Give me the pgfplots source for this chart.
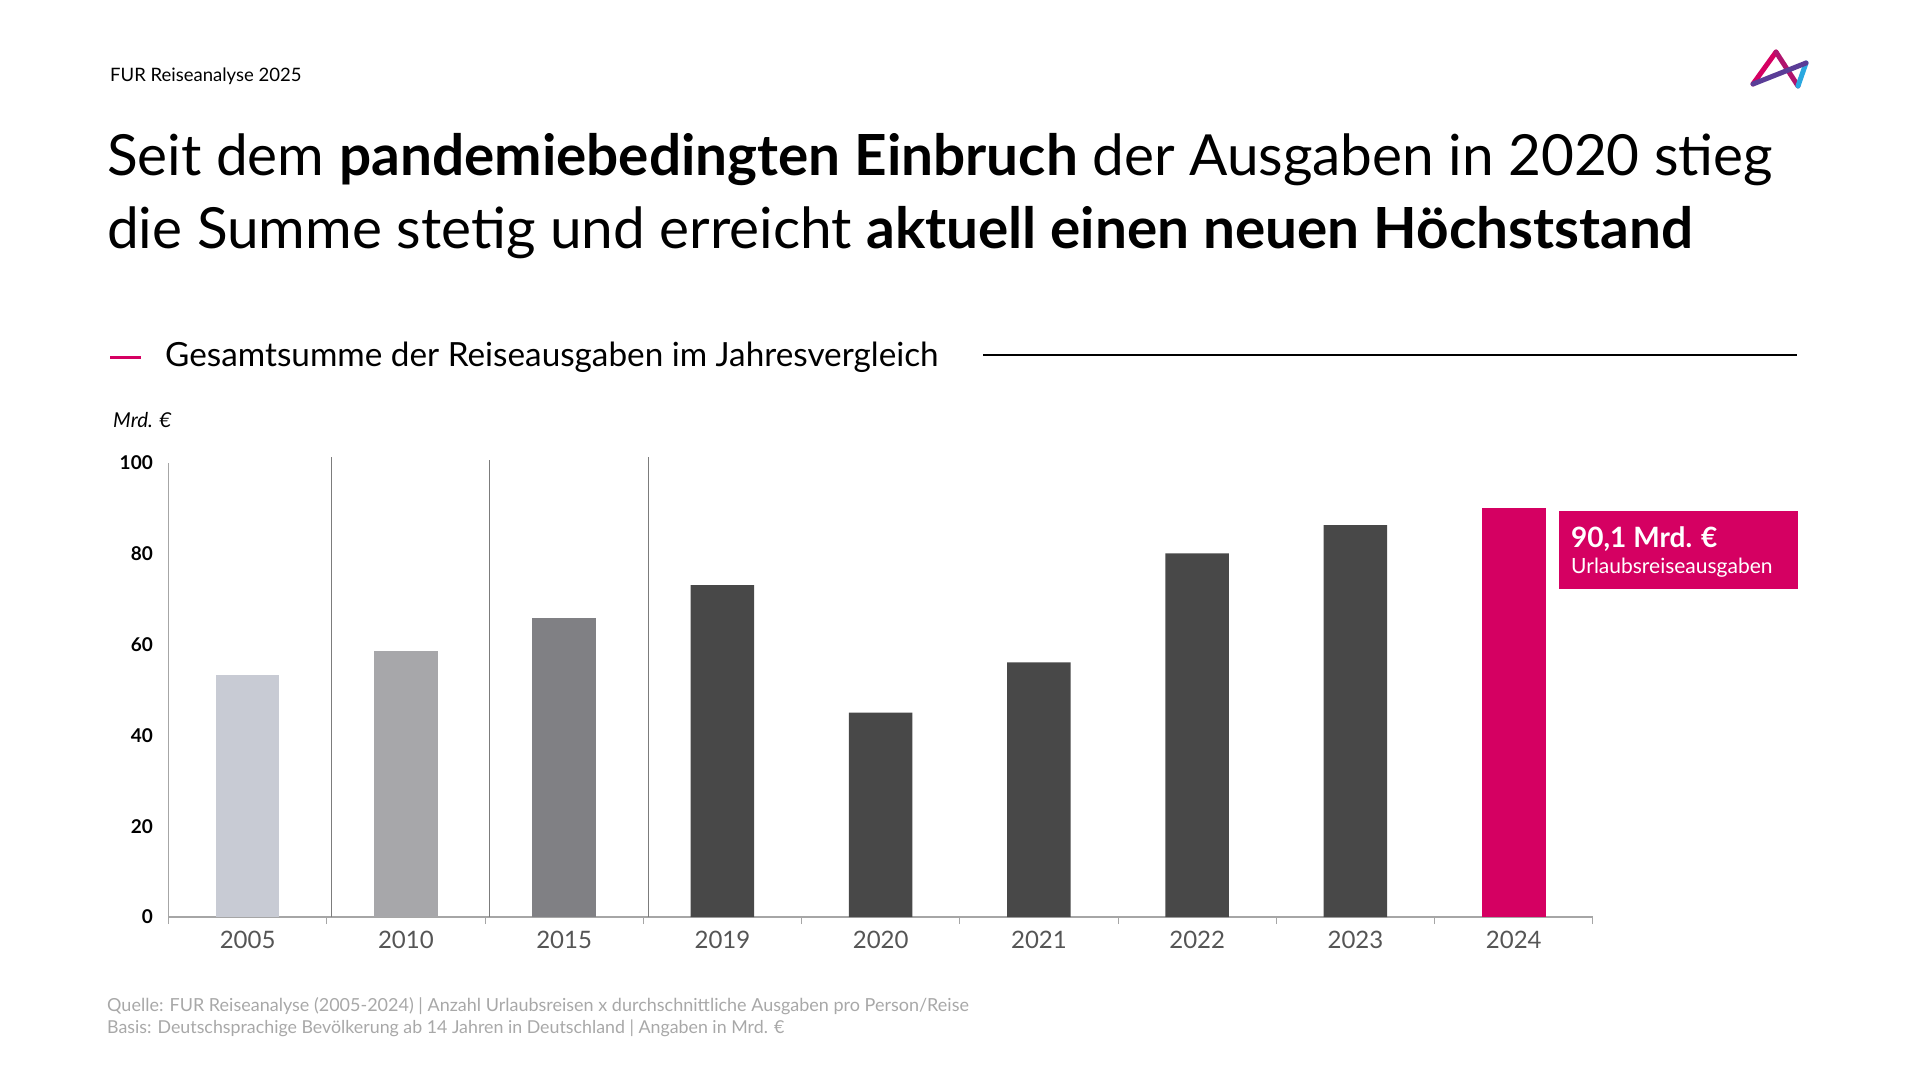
\documentclass[border=0pt]{standalone}
\usepackage{fontspec}
\setmainfont{Lato}
\usepackage{pgfplots}
\pgfplotsset{compat=1.18}

\definecolor{c05}{HTML}{C8CBD4}
\definecolor{c10}{HTML}{A7A7AA}
\definecolor{c15}{HTML}{808084}
\definecolor{cdark}{HTML}{484848}
\definecolor{mag}{HTML}{D50062}
\definecolor{axisgray}{HTML}{A6A6A6}
\definecolor{labgray}{HTML}{555555}
\definecolor{footgray}{HTML}{A8A8A8}

\newcommand{\fs}[1]{\fontsize{#1}{#1}\selectfont}

\begin{document}
\begin{tikzpicture}
\useasboundingbox (0,0) rectangle (1915pt,-1077pt);

% header
\node[anchor=base west, inner sep=0pt] at (110pt,-81pt) {\fs{18.5}FUR Reiseanalyse 2025};
\node[anchor=base west, inner sep=0pt] at (107pt,-175pt)
  {\fs{56.7}Seit dem \textbf{pandemiebedingten Einbruch} der Ausgaben in 2020 stieg};
\node[anchor=base west, inner sep=0pt] at (107pt,-248pt)
  {\fs{56.7}die Summe stetig und erreicht \textbf{aktuell einen neuen Höchststand}};

% logo
\begin{scope}[line width=5pt, line cap=round, line join=round]
\draw[color=mag] (1753pt,-84pt) -- (1776pt,-52pt);
\draw[color={rgb,255:red,176;green,20;blue,110}] (1776pt,-52pt) -- (1798pt,-86pt);
\draw[color={rgb,255:red,42;green,168;blue,224}] (1798pt,-86pt) -- (1806pt,-63pt);
\draw[color={rgb,255:red,90;green,61;blue,151}] (1806pt,-63pt) -- (1753pt,-84pt);
\end{scope}

% subtitle
\draw[mag, line width=3pt] (110pt,-357pt) -- (141pt,-357pt);
\node[anchor=base west, inner sep=0pt] at (165pt,-366pt)
  {\fs{33.3}Gesamtsumme der Reiseausgaben im Jahresvergleich};
\draw[black, line width=1.6pt] (983pt,-355pt) -- (1797pt,-355pt);
\node[anchor=base west, inner sep=0pt] at (113pt,-427pt) {\fs{20.5}\itshape Mrd. €};

\begin{axis}[
  at={(168.5pt,-917pt)}, anchor=south west,
  scale only axis, width=1424.5pt, height=454pt,
  xmin=-0.5, xmax=8.5, ymin=0, ymax=100,
  axis x line*=bottom, axis y line*=left,
  axis line style={draw=axisgray, line width=1.2pt},
  xtick={0,...,8},
  xticklabels={2005,2010,2015,2019,2020,2021,2022,2023,2024},
  minor xtick={-0.5,0.5,...,8.5},
  ytick={0,20,...,100},
  yticklabels={\textbf{0},\textbf{20},\textbf{40},\textbf{60},\textbf{80},\textbf{100}},
  major tick length=0pt, minor tick length=7pt, tick align=outside,
  minor tick style={draw=axisgray, line width=1pt},
  xticklabel style={font=\fs{24}, text=labgray, anchor=center, yshift=-23pt},
  yticklabel style={font=\fs{19}, anchor=east, inner sep=0pt, xshift=-15.5pt},
  clip=false,
]
\addplot[ybar, bar width=63.5pt, fill=c05, draw=none] coordinates {(0,53.3)};
\addplot[ybar, bar width=63.5pt, fill=c10, draw=none] coordinates {(1,58.6)};
\addplot[ybar, bar width=63.5pt, fill=c15, draw=none] coordinates {(2,65.9)};
\addplot[ybar, bar width=63.5pt, fill=cdark, draw=none] coordinates {
  (3,73.1) (4,45.0) (5,56.1) (6,80.1) (7,86.3)};
\addplot[ybar, bar width=63.5pt, fill=mag, draw=none] coordinates {(8,90.1)};
% group separators
\addplot[axisgray!75!black, line width=1pt] coordinates {(0.53,0) (0.53,101.3)};
\addplot[axisgray!75!black, line width=1pt] coordinates {(1.53,0) (1.53,100.7)};
\addplot[axisgray!75!black, line width=1pt] coordinates {(2.53,0) (2.53,101.3)};
\end{axis}

% callout
\fill[mag] (1559pt,-511pt) rectangle (1798pt,-589pt);
\node[anchor=base west, inner sep=0pt, text=white] at (1571pt,-547pt)
  {\fs{28}\bfseries 90,1 Mrd. €};
\node[anchor=base west, inner sep=0pt, text=white] at (1571pt,-573pt)
  {\fs{21}Urlaubsreiseausgaben};

% footer
\node[anchor=base west, inner sep=0pt, text=footgray] at (107pt,-1011pt)
  {\fs{18}Quelle: FUR Reiseanalyse (2005-2024) | Anzahl Urlaubsreisen x durchschnittliche Ausgaben pro Person/Reise};
\node[anchor=base west, inner sep=0pt, text=footgray] at (107pt,-1033pt)
  {\fs{17.8}Basis: Deutschsprachige Bevölkerung ab 14 Jahren in Deutschland | Angaben in Mrd. €};
\end{tikzpicture}
\end{document}
